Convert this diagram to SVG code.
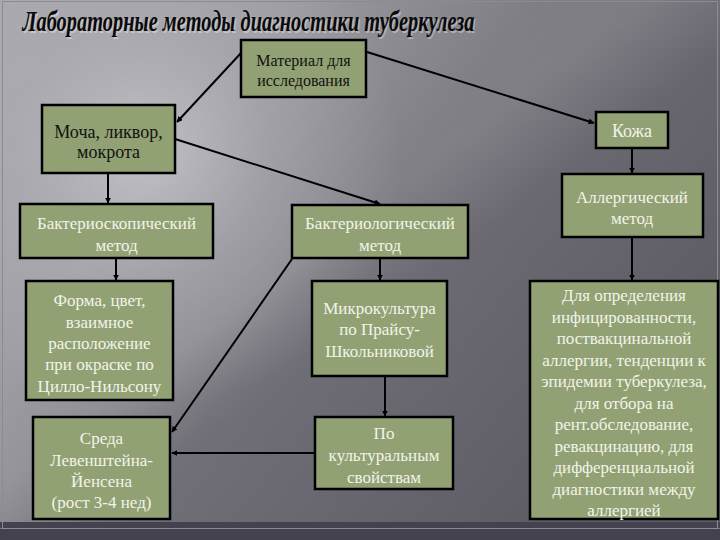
<svg xmlns="http://www.w3.org/2000/svg" width="720" height="540" viewBox="0 0 720 540">
<defs>
<linearGradient id="bg" x1="0" y1="0" x2="1" y2="0.6">
<stop offset="0" stop-color="#a9a8ae"/>
<stop offset="0.3" stop-color="#95949b"/>
<stop offset="0.55" stop-color="#717078"/>
<stop offset="1" stop-color="#5d5c65"/>
</linearGradient>
<radialGradient id="hl" cx="140" cy="150" r="260" gradientUnits="userSpaceOnUse">
<stop offset="0" stop-color="#c2c1c6" stop-opacity="0.9"/>
<stop offset="0.5" stop-color="#b0afb5" stop-opacity="0.4"/>
<stop offset="1" stop-color="#b0afb5" stop-opacity="0"/>
</radialGradient>
<linearGradient id="streak" x1="0" y1="0" x2="1" y2="1">
<stop offset="0" stop-color="#ffffff" stop-opacity="0"/>
<stop offset="0.45" stop-color="#ffffff" stop-opacity="0.12"/>
<stop offset="0.55" stop-color="#ffffff" stop-opacity="0"/>
</linearGradient>
<marker id="ah" viewBox="0 0 10 10" refX="9" refY="5" markerWidth="3" markerHeight="3" orient="auto" markerUnits="strokeWidth">
<path d="M0,0 L10,5 L0,10 z" fill="#000"/>
</marker>
<style>
.box{fill:#91a173;stroke:#000;stroke-width:2.5}
.t{font-family:"Liberation Serif","DejaVu Serif","Noto Serif",serif;font-size:17px;fill:#f3f3ea;text-anchor:middle}
.d{fill:#111}
.ln{stroke:#000;stroke-width:2;fill:none;marker-end:url(#ah)}
.ttl{font-family:"Liberation Serif","DejaVu Serif","Noto Serif",serif;font-size:30px;font-weight:bold;font-style:italic}
</style>
</defs>
<rect width="720" height="540" fill="url(#bg)"/>
<rect width="720" height="540" fill="url(#hl)"/>
<rect width="720" height="540" fill="url(#streak)"/>
<rect x="0" y="522" width="720" height="18" fill="#45424f"/>
<line x1="0" y1="528.5" x2="720" y2="528.5" stroke="#77737f" stroke-width="1"/>
<rect x="2.5" y="1.5" width="715" height="527" fill="none" stroke="#8c8b92" stroke-width="1"/>

<g id="title">
<text class="ttl" x="24" y="32.5" fill="#ffffff" fill-opacity="0.35" textLength="452" lengthAdjust="spacingAndGlyphs">Лабораторные методы диагностики туберкулеза</text>
<text class="ttl" x="22.5" y="31" fill="#0a0a0a" textLength="452" lengthAdjust="spacingAndGlyphs">Лабораторные методы диагностики туберкулеза</text>
</g>

<g id="connectors">
<line class="ln" x1="241" y1="53" x2="177" y2="122"/>
<line class="ln" x1="367" y1="52" x2="594" y2="123"/>
<line class="ln" x1="175" y1="139" x2="380" y2="204"/>
<line class="ln" x1="108" y1="173" x2="108" y2="203"/>
<line class="ln" x1="116" y1="258" x2="116" y2="280"/>
<line class="ln" x1="292" y1="259" x2="172" y2="432"/>
<line class="ln" x1="314" y1="453" x2="172" y2="453"/>
<line class="ln" x1="380" y1="258" x2="380" y2="280"/>
<line class="ln" x1="385" y1="376" x2="385" y2="416"/>
<line class="ln" x1="632" y1="148" x2="632" y2="173"/>
<line class="ln" x1="632" y1="237" x2="632" y2="280"/>
</g>

<g id="material">
<rect class="box" x="241" y="40" width="125" height="57"/>
<text class="t d" x="303.5" y="66" style="font-size:16px">Материал для</text>
<text class="t d" x="303.5" y="86" style="font-size:16px">исследования</text>
</g>

<g id="mocha">
<rect class="box" x="42" y="105" width="133" height="68"/>
<text class="t d" x="108.5" y="138" style="font-size:18px">Моча, ликвор,</text>
<text class="t d" x="108.5" y="158" style="font-size:18px">мокрота</text>
</g>

<g id="kozha">
<rect class="box" x="596" y="112" width="72" height="36"/>
<text class="t" x="632" y="137" style="font-size:18px">Кожа</text>
</g>

<g id="bakterioskop">
<rect class="box" x="20" y="204" width="193" height="54"/>
<text class="t" x="116.5" y="229">Бактериоскопический</text>
<text class="t" x="116.5" y="251">метод</text>
</g>

<g id="bakteriolog">
<rect class="box" x="292" y="205" width="176" height="53"/>
<text class="t" x="380" y="229">Бактериологический</text>
<text class="t" x="380" y="251">метод</text>
</g>

<g id="allerg">
<rect class="box" x="562" y="174" width="141" height="63"/>
<text class="t" x="632" y="203">Аллергический</text>
<text class="t" x="632" y="224">метод</text>
</g>

<g id="forma">
<rect class="box" x="26" y="281" width="147" height="119"/>
<text class="t" x="99.5" y="306">Форма, цвет,</text>
<text class="t" x="99.5" y="328">взаимное</text>
<text class="t" x="99.5" y="349">расположение</text>
<text class="t" x="99.5" y="370">при окраске по</text>
<text class="t" x="99.5" y="392">Цилло-Нильсону</text>
</g>

<g id="mikro">
<rect class="box" x="312" y="281" width="135" height="95"/>
<text class="t" x="379.5" y="314">Микрокультура</text>
<text class="t" x="379.5" y="335">по Прайсу-</text>
<text class="t" x="379.5" y="357">Школьниковой</text>
</g>

<g id="sreda">
<rect class="box" x="33" y="417" width="137" height="102"/>
<text class="t" x="101.5" y="444">Среда</text>
<text class="t" x="101.5" y="466">Левенштейна-</text>
<text class="t" x="101.5" y="487">Йенсена</text>
<text class="t" x="101.5" y="508">(рост 3-4 нед)</text>
</g>

<g id="po">
<rect class="box" x="315" y="417" width="138" height="72"/>
<text class="t" x="384" y="439">По</text>
<text class="t" x="384" y="461">культуральным</text>
<text class="t" x="384" y="483">свойствам</text>
</g>

<g id="dlya">
<rect class="box" x="530" y="281" width="188" height="238"/>
<text class="t" x="624" y="301">Для определения</text>
<text class="t" x="624" y="322.5">инфицированности,</text>
<text class="t" x="624" y="344">поствакцинальной</text>
<text class="t" x="624" y="365.5">аллергии, тенденции к</text>
<text class="t" x="624" y="387">эпидемии туберкулеза,</text>
<text class="t" x="624" y="408.5">для отбора на</text>
<text class="t" x="624" y="430">рент.обследование,</text>
<text class="t" x="624" y="451.5">ревакцинацию, для</text>
<text class="t" x="624" y="473">дифференциальной</text>
<text class="t" x="624" y="494.5">диагностики между</text>
<text class="t" x="624" y="516">аллергией</text>
</g>
</svg>
